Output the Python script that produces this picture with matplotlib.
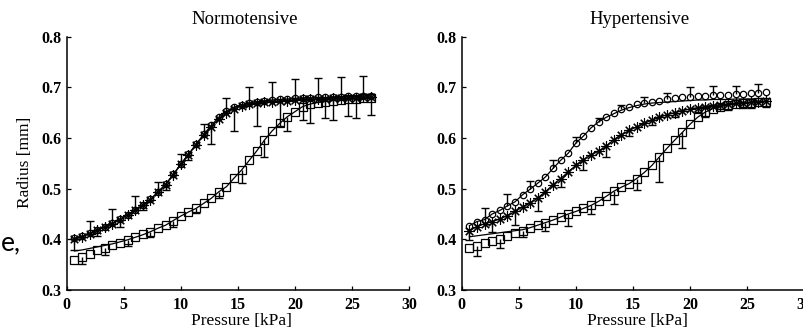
import numpy as np
import matplotlib
matplotlib.use("Agg")
import matplotlib.pyplot as plt

# pressure steps (kPa), same for all series
pressure = [0.67, 1.33, 2.0, 2.67, 3.33, 4.0, 4.67, 5.33, 6.0, 6.67,
            7.33, 8.0, 8.67, 9.33, 10.0, 10.67, 11.33, 12.0, 12.67, 13.33,
            14.0, 14.67, 15.33, 16.0, 16.67, 17.33, 18.0, 18.67, 19.33, 20.0,
            20.67, 21.33, 22.0, 22.67, 23.33, 24.0, 24.67, 25.33, 26.0, 26.67]

# Normotensive
norm_circ = [0.402, 0.406, 0.412, 0.419, 0.425, 0.432, 0.440, 0.449, 0.458, 0.468,
             0.479, 0.494, 0.509, 0.528, 0.549, 0.568, 0.588, 0.607, 0.625, 0.641,
             0.653, 0.661, 0.666, 0.669, 0.672, 0.673, 0.675, 0.676, 0.677, 0.678,
             0.679, 0.679, 0.680, 0.680, 0.681, 0.681, 0.682, 0.682, 0.683, 0.683]
norm_star = [0.400, 0.405, 0.411, 0.418, 0.424, 0.431, 0.439, 0.448, 0.457, 0.467,
             0.478, 0.493, 0.508, 0.527, 0.548, 0.567, 0.586, 0.605, 0.622, 0.638,
             0.650, 0.658, 0.663, 0.667, 0.669, 0.671, 0.672, 0.673, 0.674, 0.675,
             0.676, 0.676, 0.677, 0.677, 0.678, 0.678, 0.679, 0.679, 0.680, 0.680]
norm_sq = [0.359, 0.366, 0.372, 0.378, 0.382, 0.389, 0.393, 0.399, 0.405, 0.411,
           0.415, 0.422, 0.428, 0.437, 0.446, 0.454, 0.461, 0.471, 0.481, 0.494,
           0.504, 0.521, 0.537, 0.556, 0.575, 0.596, 0.614, 0.629, 0.642, 0.652,
           0.662, 0.667, 0.670, 0.672, 0.674, 0.675, 0.676, 0.677, 0.678, 0.678]
norm_sq_fit = [0.377, 0.379, 0.382, 0.385, 0.388, 0.391, 0.395, 0.399, 0.404, 0.409,
               0.415, 0.422, 0.428, 0.437, 0.446, 0.454, 0.461, 0.471, 0.481, 0.494,
               0.504, 0.521, 0.537, 0.556, 0.575, 0.596, 0.614, 0.629, 0.642, 0.652,
               0.662, 0.667, 0.670, 0.672, 0.674, 0.675, 0.676, 0.677, 0.678, 0.678]
norm_circ_err = [0.024, 0.027, 0.027, 0.020, 0.020, 0.021, 0.025, 0.032, 0.036, 0.038, 0.039, 0.040, 0.040]
norm_star_err = [0.022, 0.012, 0.015, 0.010, 0.010, 0.010, 0.033, 0.045, 0.046, 0.050, 0.040, 0.038, 0.035, 0.034]
norm_sq_err = [0.015, 0.013, 0.012, 0.010, 0.012, 0.010, 0.013, 0.025, 0.033, 0.028, 0.038, 0.038, 0.038]

# Hypertensive
hyp_circ = [0.427, 0.435, 0.439, 0.450, 0.457, 0.466, 0.474, 0.488, 0.499, 0.511,
            0.523, 0.540, 0.556, 0.570, 0.590, 0.604, 0.620, 0.632, 0.642, 0.650,
            0.658, 0.662, 0.667, 0.670, 0.672, 0.674, 0.677, 0.679, 0.680, 0.681,
            0.682, 0.682, 0.684, 0.684, 0.685, 0.686, 0.686, 0.688, 0.688, 0.690]
hyp_circ_fit = [0.427, 0.435, 0.439, 0.450, 0.457, 0.466, 0.474, 0.488, 0.499, 0.511,
                0.523, 0.540, 0.556, 0.570, 0.590, 0.604, 0.620, 0.632, 0.641, 0.648,
                0.655, 0.660, 0.664, 0.667, 0.669, 0.670, 0.671, 0.672, 0.673, 0.674,
                0.675, 0.675, 0.676, 0.676, 0.676, 0.677, 0.677, 0.677, 0.678, 0.678]
hyp_star = [0.417, 0.425, 0.431, 0.435, 0.440, 0.447, 0.455, 0.464, 0.472, 0.482,
            0.494, 0.508, 0.520, 0.533, 0.546, 0.557, 0.567, 0.574, 0.584, 0.597,
            0.606, 0.615, 0.622, 0.629, 0.635, 0.641, 0.646, 0.650, 0.654, 0.657,
            0.660, 0.662, 0.664, 0.666, 0.667, 0.669, 0.670, 0.671, 0.672, 0.673]
hyp_sq = [0.382, 0.386, 0.393, 0.397, 0.400, 0.407, 0.412, 0.417, 0.423, 0.428,
          0.433, 0.438, 0.444, 0.450, 0.455, 0.461, 0.467, 0.475, 0.485, 0.495,
          0.503, 0.510, 0.520, 0.532, 0.546, 0.563, 0.580, 0.596, 0.611, 0.627,
          0.641, 0.651, 0.658, 0.662, 0.665, 0.667, 0.669, 0.670, 0.671, 0.672]
hyp_sq_fit = [0.405, 0.407, 0.409, 0.411, 0.413, 0.415, 0.417, 0.419, 0.423, 0.428,
              0.433, 0.438, 0.444, 0.450, 0.455, 0.461, 0.467, 0.475, 0.485, 0.495,
              0.503, 0.510, 0.520, 0.532, 0.546, 0.563, 0.580, 0.596, 0.611, 0.627,
              0.641, 0.651, 0.658, 0.662, 0.665, 0.667, 0.669, 0.670, 0.671, 0.672]
hyp_circ_err = [0.022, 0.023, 0.017, 0.017, 0.012, 0.008, 0.008, 0.010, 0.012, 0.020, 0.018, 0.017, 0.019]
hyp_star_err = [0.018, 0.020, 0.027, 0.027, 0.016, 0.020, 0.021, 0.012, 0.010, 0.008, 0.008, 0.008, 0.010, 0.011]
hyp_sq_err = [0.019, 0.018, 0.012, 0.017, 0.023, 0.017, 0.025, 0.023, 0.050, 0.030, 0.010, 0.010, 0.010]

x_ticks = [0, 5, 10, 15, 20, 25, 30]
y_ticks = [0.3, 0.4, 0.5, 0.6, 0.7, 0.8]

plt.rcParams['font.family'] = ['Liberation Serif', 'DejaVu Serif']

p = np.array(pressure)


def errbars(ax, start, y, err, sign):
    xs = p[start::3]
    ys = np.array(y)[start::3]
    ends = ys + sign * np.array(err)
    ax.vlines(xs, ys, ends, color='black', lw=1.0, zorder=2)
    ax.plot(xs, ends, ls='none', marker='_', ms=6, mew=1.0, color='black', zorder=2)


def panel(ax, circ, circ_fit, star, sq, sq_fit, circ_err, star_err, sq_err):
    ax.plot(p, circ_fit, color='black', lw=0.9, zorder=1)
    ax.plot(p, star, color='black', lw=0.9, zorder=1)
    ax.plot(p, sq_fit, color='black', lw=0.9, zorder=1)
    errbars(ax, 2, circ, circ_err, 1)
    errbars(ax, 0, star, star_err, -1)
    errbars(ax, 1, sq, sq_err, -1)
    ax.plot(p, sq, ls='none', marker='s', ms=5.2, mfc='none', mec='black', mew=0.9, zorder=3)
    ax.plot(p, circ, ls='none', marker='o', ms=4.6, mfc='none', mec='black', mew=0.9, zorder=3)
    ax.plot(p, star, ls='none', marker=(8, 2, 0), ms=7.5, color='black', mew=0.8, zorder=3)

    ax.set_xlim(0, 30)
    ax.set_ylim(0.3, 0.8)
    ax.set_xticks(x_ticks)
    ax.set_yticks(y_ticks)
    ax.set_yticklabels([f"{t:.1f}" for t in y_ticks])
    for s in ['top', 'right']:
        ax.spines[s].set_visible(False)
    for s in ['left', 'bottom']:
        ax.spines[s].set_linewidth(1.1)
    ax.tick_params(direction='in', length=3, width=0.9, labelsize=11.5)
    ax.tick_params(axis='x', pad=5)
    ax.tick_params(axis='y', pad=4)
    for lab in ax.get_xticklabels() + ax.get_yticklabels():
        lab.set_fontweight('bold')
    ax.patch.set_alpha(0)


fig = plt.figure(figsize=(8.04, 3.31), dpi=100)
ax1 = fig.add_axes([0.083, 0.1239, 0.4258, 0.7653])
ax2 = fig.add_axes([0.5743, 0.1239, 0.4258, 0.7653])

panel(ax1, norm_circ, norm_circ, norm_star, norm_sq, norm_sq_fit,
      norm_circ_err, norm_star_err, norm_sq_err)
panel(ax2, hyp_circ, hyp_circ_fit, hyp_star, hyp_sq, hyp_sq_fit,
      hyp_circ_err, hyp_star_err, hyp_sq_err)

fig.text(245 / 804, 1 - 20 / 331, 'Normotensive', ha='center', va='center', fontsize=13.5)
fig.text(640 / 804, 1 - 20 / 331, 'Hypertensive', ha='center', va='center', fontsize=13.5)
fig.text(241 / 804, 1 - 321 / 331, 'Pressure [kPa]', ha='center', va='center', fontsize=12.5)
fig.text(637 / 804, 1 - 321 / 331, 'Pressure [kPa]', ha='center', va='center', fontsize=12.5)
fig.text(25 / 804, 1 - 162 / 331, 'Radius [mm]', ha='center', va='center', rotation=90, fontsize=12.5)

# leftover text from the slide at the left edge
fig.text(0.001, 1 - 243 / 331, 'e,', ha='left', va='center', fontsize=19, family='Lato')

fig.savefig('out.png', dpi=100)
